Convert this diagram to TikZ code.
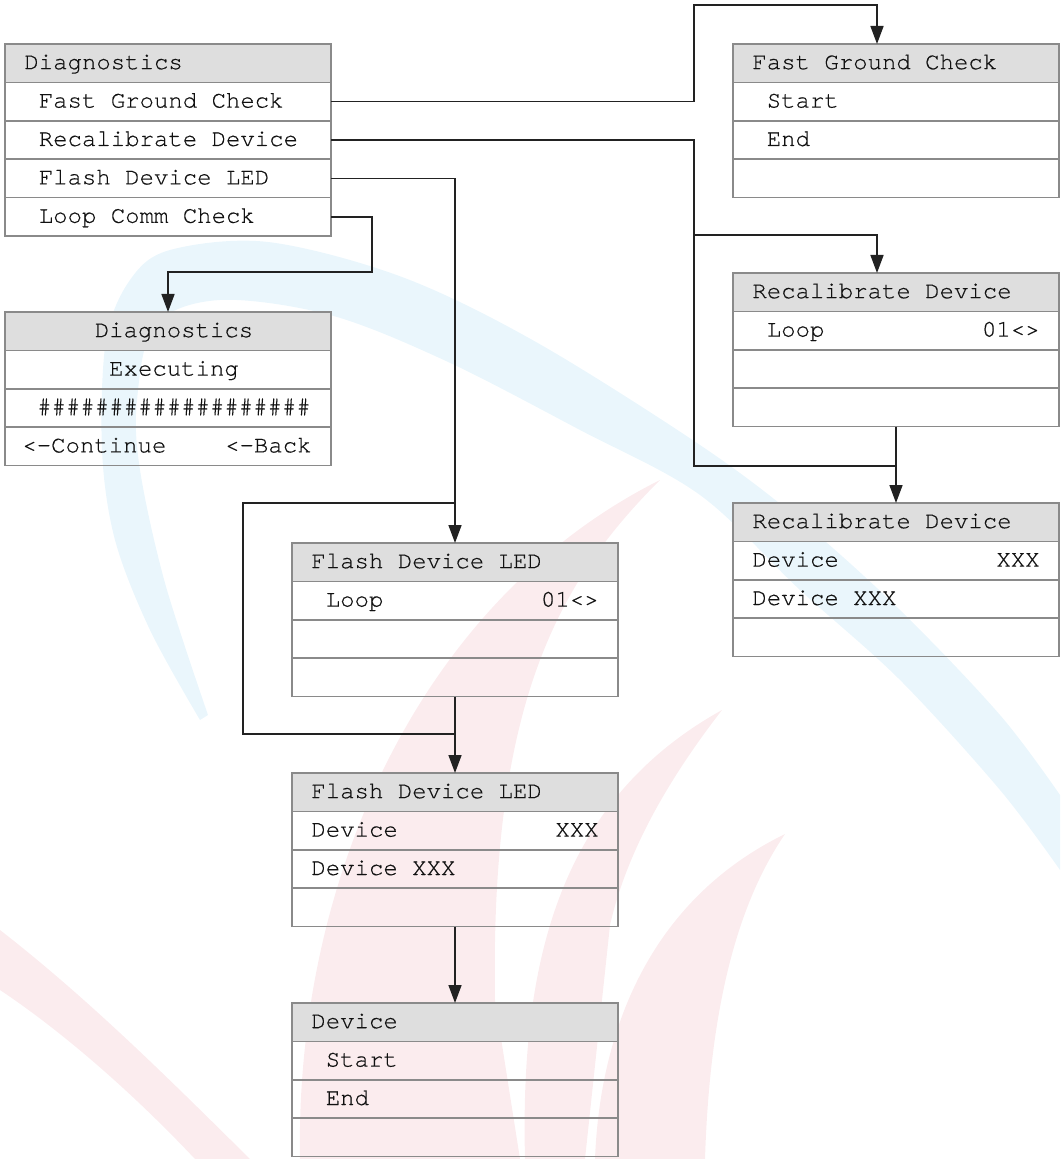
\documentclass[tikz,border=0pt]{standalone}
\usepackage{fontspec}
\newfontfamily\menufont[FakeBold=0.35]{TeX Gyre Cursor}
\usetikzlibrary{arrows.meta}
\definecolor{boxgray}{HTML}{8A8A8A}
\definecolor{hdrfill}{HTML}{DEDEDE}
\definecolor{linecol}{HTML}{222222}
\definecolor{txtcol}{HTML}{111111}
\definecolor{wmcyan}{RGB}{234,246,252}
\definecolor{wmred}{RGB}{251,236,238}

% one menu screen: header cell plus three body cells, top-left corner at (#2,#3)
\newcommand{\menubox}[3]{%
  \node[hdr]  (#1-0) at (#2,#3) {};
  \node[cell] (#1-1) at (#2,#3+38.4) {};
  \node[cell] (#1-2) at (#2,#3+76.8) {};
  \node[cell] (#1-3) at (#2,#3+115.2) {};
}
% text in a cell: flush left, indented by one character, flush right, centred
\newcommand{\ltext}[2]{\node[txt,anchor=base west] at ([xshift=9.5pt,yshift=-3pt]#1.west) {#2};}
\newcommand{\itext}[2]{\node[txt,anchor=base west] at ([xshift=16.7pt,yshift=-3pt]#1.west) {#2};}
\newcommand{\rtext}[2]{\node[txt,anchor=base east] at ([xshift=-9.5pt,yshift=-3pt]#1.east) {#2};}
\newcommand{\ctext}[2]{\node[txt,anchor=base] at ([xshift=3pt,yshift=-3pt]#1.center) {#2};}

\begin{document}
\begin{tikzpicture}[x=0.5pt,y=-0.5pt,
  cell/.style={draw=boxgray, line width=0.75pt, minimum width=163pt,
    minimum height=19.2pt, inner sep=0pt, outer sep=0pt, anchor=north west},
  hdr/.style={cell, fill=hdrfill},
  txt/.style={font=\menufont\fontsize{12pt}{14pt}\selectfont, text=txtcol, inner sep=0pt},
  conn/.style={draw=linecol, line width=0.8pt},
  arr/.style={conn, -{Triangle[length=9pt,width=6.5pt]}}
]
\useasboundingbox (0,0) rectangle (1060,1159);

% ---- faint logo in the background ----
\fill[wmcyan] plot[smooth, tension=0.55] coordinates {(200,720) (150,630) (115,540) (102,450)
    (106,340) (130,280) (170,250) (268,242) (402,277) (536,342) (700,445) (800,520)
    (900,610) (1000,715) (1060,795)}
  -- plot[smooth, tension=0.55] coordinates {(1060,870) (1000,790) (900,680) (800,590)
    (700,495) (580,430) (446,361) (330,315) (220,300) (155,325) (137,400) (140,470)
    (165,583) (208,715)} -- cycle;
% flame tongues
\fill[wmred] (300,1159) .. controls (295,880) and (420,600) .. (660,480)
  .. controls (560,580) and (490,700) .. (495,1000) -- (520,1159) -- cycle;
\fill[wmred] (525,1159) .. controls (520,960) and (560,800) .. (722,710)
  .. controls (660,790) and (625,860) .. (610,925) -- (585,1159) -- cycle;
\fill[wmred] (595,1159) .. controls (600,1030) and (650,900) .. (785,834)
  .. controls (740,900) and (710,1000) .. (705,1159) -- cycle;
\fill[wmred] (0,930) .. controls (90,1000) and (170,1080) .. (250,1159)
  -- (195,1159) .. controls (130,1090) and (60,1030) .. (0,990) -- cycle;

% ---- menu screens ----
\node[hdr]  (A-0) at (5,44) {};
\node[cell] (A-1) at (5,82.4) {};
\node[cell] (A-2) at (5,120.8) {};
\node[cell] (A-3) at (5,159.2) {};
\node[cell] (A-4) at (5,197.6) {};
\ltext{A-0}{Diagnostics}
\itext{A-1}{Fast Ground Check}
\itext{A-2}{Recalibrate Device}
\itext{A-3}{Flash Device LED}
\itext{A-4}{Loop Comm Check}

\menubox{E}{5}{312}
\ctext{E-0}{Diagnostics}
\ctext{E-1}{Executing}
\ctext{E-2}{\#\#\#\#\#\#\#\#\#\#\#\#\#\#\#\#\#\#\#}
\node[txt,anchor=base west] at ([xshift=8.5pt,yshift=-3pt]E-3.west) {<-Continue};
\node[txt,anchor=base east] at ([xshift=-9.5pt,yshift=-3pt]E-3.east) {<-Back};

\menubox{B}{733}{44}
\ltext{B-0}{Fast Ground Check}
\itext{B-1}{Start}
\itext{B-2}{End}

\menubox{C}{733}{273}
\ltext{C-0}{Recalibrate Device}
\itext{C-1}{Loop}
\rtext{C-1}{01<>}

\menubox{D}{733}{503}
\ltext{D-0}{Recalibrate Device}
\ltext{D-1}{Device}
\rtext{D-1}{XXX}
\ltext{D-2}{Device XXX}

\menubox{F}{292}{543}
\ltext{F-0}{Flash Device LED}
\itext{F-1}{Loop}
\rtext{F-1}{01<>}

\menubox{G}{292}{773}
\ltext{G-0}{Flash Device LED}
\ltext{G-1}{Device}
\rtext{G-1}{XXX}
\ltext{G-2}{Device XXX}

\menubox{H}{292}{1003}
\ltext{H-0}{Device}
\itext{H-1}{Start}
\itext{H-2}{End}

% ---- routing points ----
\coordinate (fg-up)    at (694,5);
\coordinate (fg-in)    at (877,0);
\coordinate (rc-split) at (694,235);
\coordinate (rc-in)    at (877,0);
\coordinate (rc-join)  at (896,466);
\coordinate (lc-turn)  at (372,272);
\coordinate (fl-top)   at (243,503);
\coordinate (fl-bot)   at (243,734);

% ---- connectors ----
\draw[arr] (A-1.east) -| (fg-up) -| (B-0.north -| fg-in);
\draw[arr] (A-2.east) -| (rc-split) -| (C-0.north -| rc-in);
\draw[conn] (rc-split) |- (rc-join);
\draw[arr] (C-3.south) -- (D-0.north);
\draw[arr] (A-3.east) -| (F-0.north);
\draw[conn] (F-3.south |- fl-bot) -- (fl-bot) -- (fl-top) -- (F-0.north |- fl-top);
\draw[arr] (F-3.south) -- (G-0.north);
\draw[arr] (G-3.south) -- (H-0.north);
\draw[arr] (A-4.east) -| (lc-turn) -| (E-0.north);
\end{tikzpicture}
\end{document}
